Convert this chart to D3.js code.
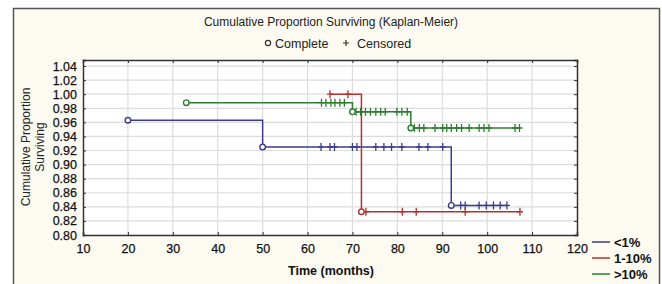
<!DOCTYPE html>
<html>
<head>
<meta charset="utf-8">
<script src="https://cdn.jsdelivr.net/npm/d3@7"></script>
<style>
  body { margin: 0; background: #fff; }
  svg { display: block; font-family: "Liberation Sans", Arial, sans-serif; }
</style>
</head>
<body>
<div id="chart"></div>
<script>
// x / y ticks
const xTicks = [10, 20, 30, 40, 50, 60, 70, 80, 90, 100, 110, 120];
const yTicks = [0.80, 0.82, 0.84, 0.86, 0.88, 0.90, 0.92, 0.94, 0.96, 0.98, 1.00, 1.02, 1.04];

// <1%
const lowStepTimes = [20, 50, 92];
const lowStepLevels = [0.963, 0.925, 0.842];
const lowEvents = [20, 50, 92];
const lowEnd = 104.4;
const lowCensored = [63, 65, 66, 70, 71, 75.2, 77, 78.7, 81, 84.8, 86.8, 90.1,
  94.1, 95.1, 98.2, 99.8, 101.4, 102.9, 104.4];

// 1-10%
const midStepTimes = [65, 72];
const midStepLevels = [1.0, 0.833];
const midEvents = [72];
const midEnd = 107.3;
const midCensored = [65, 69, 73, 81.1, 84.2, 95.1, 107.3];

// >10%
const highStepTimes = [33, 70, 83];
const highStepLevels = [0.988, 0.975, 0.952];
const highEvents = [33, 70, 83];
const highEnd = 107.2;
const highCensored = [63.1, 64.1, 65.2, 66.1, 67.2, 68.2, 70.8, 71.8, 72.9, 74, 75.2,
  76.3, 77.3, 79.9, 81, 82.2, 83.8, 84.9, 85.9, 88.4, 90.1, 91, 92, 93.2, 94.3, 96,
  98.2, 99.3, 100.4, 106.2, 107.2];

const groupNames = ["<1%", "1-10%", ">10%"];
const groupColors = ["#3d3d8e", "#b3322f", "#2f7d2f"];

const groups = [
  { times: lowStepTimes, levels: lowStepLevels, events: lowEvents, end: lowEnd, censored: lowCensored },
  { times: midStepTimes, levels: midStepLevels, events: midEvents, end: midEnd, censored: midCensored },
  { times: highStepTimes, levels: highStepLevels, events: highEvents, end: highEnd, censored: highCensored }
];

const W = 662, H = 284;
const plot = { left: 83, right: 577, top: 60, bottom: 235 };

const svg = d3.select("#chart").append("svg").attr("width", W).attr("height", H);

// panel
svg.append("rect")
  .attr("x", 13.5).attr("y", 8.5)
  .attr("width", 646).attr("height", 290)
  .attr("fill", "#fcfaf1")
  .attr("stroke", "#555").attr("stroke-width", 1.5);

const x = d3.scaleLinear().domain([10, 120]).range([plot.left, plot.right]);
const y = d3.scaleLinear().domain([0.80, 0.80 + (plot.bottom - plot.top) / 704]).range([plot.bottom, plot.top]);

// plot background
svg.append("rect")
  .attr("x", plot.left).attr("y", plot.top)
  .attr("width", plot.right - plot.left).attr("height", plot.bottom - plot.top)
  .attr("fill", "#fff");

// grid
svg.append("g").selectAll("line").data(xTicks.slice(1, -1)).join("line")
  .attr("x1", d => x(d)).attr("x2", d => x(d))
  .attr("y1", plot.top).attr("y2", plot.bottom)
  .attr("stroke", "#dcdcdc").attr("stroke-width", 1.2);
svg.append("g").selectAll("line").data(yTicks.slice(1)).join("line")
  .attr("x1", plot.left).attr("x2", plot.right)
  .attr("y1", d => y(d)).attr("y2", d => y(d))
  .attr("stroke", "#dcdcdc").attr("stroke-width", 1.2);

// axes
const fmt = d3.format(".2f");
svg.append("g")
  .attr("transform", `translate(0,${plot.bottom})`)
  .call(d3.axisBottom(x).tickValues(xTicks).tickSize(-3).tickPadding(9));
svg.append("g")
  .attr("transform", `translate(${plot.left},0)`)
  .call(d3.axisLeft(y).tickValues(yTicks).tickFormat(fmt).tickSize(-3).tickPadding(6));
svg.append("g")
  .attr("transform", `translate(0,${plot.top})`)
  .call(d3.axisTop(x).tickValues(xTicks).tickSize(-3).tickFormat(""));
svg.append("g")
  .attr("transform", `translate(${plot.right},0)`)
  .call(d3.axisRight(y).tickValues(yTicks).tickSize(-3).tickFormat(""));

svg.selectAll(".domain").attr("stroke", "#333").attr("stroke-width", 1.5);
svg.selectAll(".tick line").attr("stroke", "#333");
svg.selectAll(".tick text").attr("font-size", 12.5).attr("fill", "#111")
  .attr("stroke", "#111").attr("stroke-width", 0.25)
  .attr("font-family", "'Liberation Sans', Arial, sans-serif");

// curves
const line = d3.line().x(d => x(d[0])).y(d => y(d[1])).curve(d3.curveStepAfter);

groups.forEach((g, i) => {
  const pts = g.times.map((t, k) => [t, g.levels[k]]);
  pts.push([g.end, g.levels[g.levels.length - 1]]);
  const levelAt = t => {
    let v = g.levels[0];
    g.times.forEach((s, k) => { if (t >= s) v = g.levels[k]; });
    return v;
  };
  const col = groupColors[i];
  const gg = svg.append("g");
  gg.append("path").attr("d", line(pts))
    .attr("fill", "none").attr("stroke", col).attr("stroke-width", 1.5);
  gg.selectAll(".cens").data(g.censored).join("path")
    .attr("class", "cens")
    .attr("d", d => {
      const cx = x(d), cy = y(levelAt(d));
      return `M${cx},${cy - 4}V${cy + 4}M${cx - 3},${cy}H${cx + 3}`;
    })
    .attr("stroke", col).attr("stroke-width", 1.3);
  gg.selectAll(".ev").data(g.events).join("circle")
    .attr("class", "ev")
    .attr("cx", d => x(d)).attr("cy", d => y(levelAt(d)))
    .attr("r", 2.8)
    .attr("fill", "#fff").attr("stroke", col).attr("stroke-width", 1.4);
});

// titles
svg.append("text").attr("x", 331).attr("y", 26).attr("text-anchor", "middle")
  .attr("font-size", 12).attr("fill", "#222")
  .text("Cumulative Proportion Surviving (Kaplan-Meier)");

svg.append("circle").attr("cx", 268).attr("cy", 43).attr("r", 2.6)
  .attr("fill", "none").attr("stroke", "#333").attr("stroke-width", 1.2);
svg.append("text").attr("x", 275).attr("y", 47.5).attr("font-size", 12.5).attr("fill", "#222")
  .text("Complete");
svg.append("path").attr("d", "M346,40V46M343,43H349")
  .attr("stroke", "#333").attr("stroke-width", 1.2);
svg.append("text").attr("x", 357).attr("y", 47.5).attr("font-size", 12.5).attr("fill", "#222")
  .text("Censored");

svg.append("text").attr("x", 331).attr("y", 275).attr("text-anchor", "middle")
  .attr("font-size", 12.5).attr("font-weight", "bold").attr("fill", "#111")
  .text("Time (months)");

const yl = svg.append("text")
  .attr("transform", "translate(30,147) rotate(-90)")
  .attr("text-anchor", "middle").attr("font-size", 12).attr("fill", "#222");
yl.append("tspan").attr("x", 0).attr("dy", 0).text("Cumulative Proportion");
yl.append("tspan").attr("x", 0).attr("dy", 14).text("Surviving");

// legend
const leg = svg.append("g").selectAll("g").data(groupNames).join("g")
  .attr("transform", (d, i) => `translate(592,${242 + i * 16})`);
leg.append("line").attr("x1", 0).attr("x2", 18)
  .attr("stroke", (d, i) => groupColors[i]).attr("stroke-width", 1.5);
leg.append("text").attr("x", 22).attr("y", 4.5)
  .attr("font-size", 13).attr("font-weight", "bold").attr("fill", "#111")
  .text(d => d);
</script>
</body>
</html>
